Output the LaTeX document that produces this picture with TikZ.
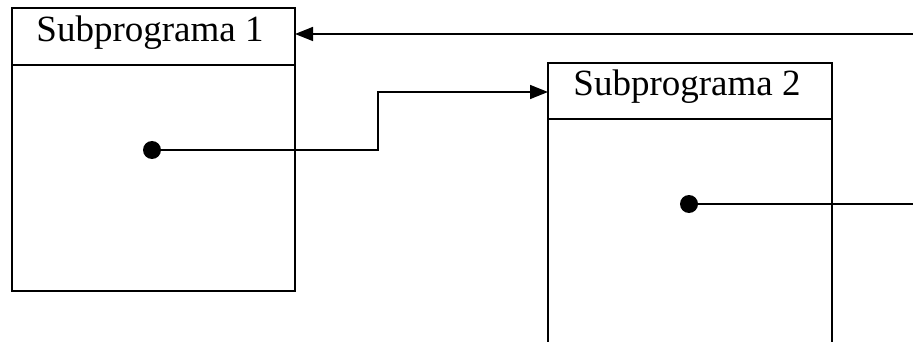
\documentclass[tikz,border=0pt]{standalone}
\usepackage{fontspec}
\setmainfont{Liberation Serif}
\usetikzlibrary{arrows.meta}
\begin{document}
\begin{tikzpicture}[x=1pt,y=-1pt,
  boxline/.style={draw, line width=1.5pt},
  title/.style={font=\fontsize{37}{42}\selectfont, anchor=base, inner sep=0pt},
  dotnode/.style={circle, fill=black, inner sep=0pt, minimum size=18pt},
  link/.style={line width=1.5pt, -{Triangle[length=18pt,width=14pt]}},
  plainlink/.style={line width=1.5pt}]
\useasboundingbox (0,0) rectangle (913,342);
\clip (0,0) rectangle (913,342);
% box 1
\coordinate (b1nw) at (12,8);
\coordinate (b1se) at (295,291);
\draw[boxline] (b1nw) rectangle (b1se);
\draw[boxline] (12,65) -- (295,65);
\node[title] (t1) at (150,42) {Subprograma 1};
\coordinate (b1in) at (295,34);
% box 2
\draw[boxline] (548,360) -- (548,63) -- (832,63) -- (832,360);
\draw[boxline] (548,119) -- (832,119);
\node[title] (t2) at (687,96) {Subprograma 2};
\coordinate (b2in) at (548,92);
% dots
\node[dotnode] (d1) at (152,150) {};
\node[dotnode] (d2) at (689,204) {};
\coordinate (bend) at (378,150);
\coordinate (out2) at (913,204);
\coordinate (in1) at (913,34);
% connectors
\draw[link] (d1.center) -- (bend) |- (b2in);
\draw[plainlink] (d2.center) -- (out2);
\draw[link] (in1) -- (b1in);
\end{tikzpicture}
\end{document}
